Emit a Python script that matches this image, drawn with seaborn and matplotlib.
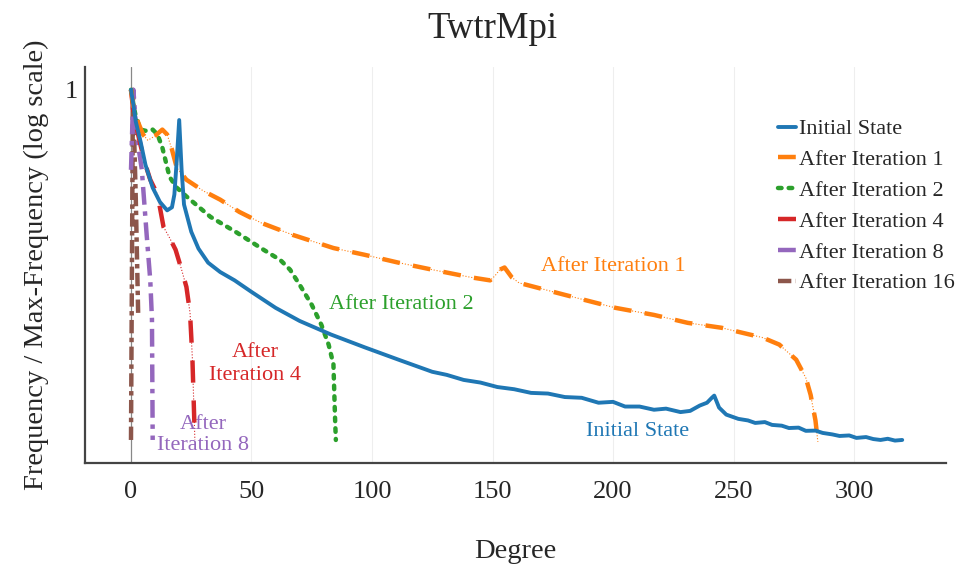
import matplotlib
matplotlib.use("Agg")
import matplotlib.pyplot as plt
import seaborn as sns
import pandas as pd

# ---------------- data ----------------
initial_x = [0, 1, 2, 4, 6, 9, 12, 15, 17, 18, 19, 20, 21, 22, 25, 28, 32, 37, 43, 50,
             60, 70, 83, 97, 111, 125, 131, 138, 145, 152, 159, 166, 173, 180, 187, 194, 200,
             205, 211, 217, 222, 228, 232, 236, 239, 241, 242, 244, 247, 252, 256, 259,
             263, 266, 270, 273, 277, 280, 284, 287, 291, 294, 298, 301, 305, 308, 311,
             314, 317, 320]
initial_y = [1.0, 0.61, 0.35, 0.18, 0.085, 0.040, 0.025, 0.019, 0.021, 0.032, 0.10, 0.37,
             0.072, 0.023, 0.0094, 0.0054, 0.0034, 0.0025, 0.0019, 0.0013,
             0.00077, 0.00050, 0.00032, 0.00021, 0.00014, 9.4e-5, 8.5e-5, 7.2e-5, 6.6e-5,
             5.7e-5, 5.3e-5, 4.7e-5, 4.6e-5, 4.1e-5, 4.0e-5, 3.4e-5, 3.5e-5,
             3.0e-5, 3.0e-5, 2.7e-5, 2.8e-5, 2.5e-5, 2.6e-5, 3.1e-5, 3.4e-5, 4.0e-5, 4.3e-5,
             2.9e-5, 2.3e-5, 2.0e-5, 1.9e-5, 1.75e-5,
             1.8e-5, 1.64e-5, 1.6e-5, 1.48e-5, 1.5e-5, 1.35e-5, 1.36e-5, 1.26e-5, 1.2e-5,
             1.14e-5, 1.16e-5, 1.07e-5, 1.1e-5, 1.03e-5, 1.0e-5,
             1.04e-5, 0.98e-5, 1.0e-5]

iter1_x = [0, 1, 3, 5, 7, 10, 13, 15, 17, 19, 23, 30, 37, 45, 54, 67, 84, 97, 111, 125,
           141, 149, 151, 153, 155, 158, 161, 180, 201, 217, 231, 245, 252, 262, 269, 276,
           280, 282, 284, 285]
iter1_y = [1.0, 0.57, 0.34, 0.23, 0.19, 0.22, 0.27, 0.23, 0.14, 0.077, 0.052, 0.036, 0.027,
           0.018, 0.0126, 0.0085, 0.0055, 0.0044, 0.0034, 0.0027,
           0.0021, 0.0019, 0.0022, 0.0027, 0.0029, 0.0021, 0.00175, 0.00118, 0.00077,
           0.00061, 0.00047, 0.00040, 0.00035, 0.00029, 0.00023, 0.00014,
           7.7e-5, 4.4e-5, 1.9e-5, 9.4e-6]

iter2_x = [0, 1, 2, 4, 6, 9, 11, 13, 16, 19, 23, 33, 44, 55, 62, 66, 70, 75, 79, 82, 84,
           84.7, 85]
iter2_y = [1.0, 0.61, 0.41, 0.27, 0.26, 0.27, 0.23, 0.15, 0.057, 0.040, 0.030, 0.0153,
           0.0091, 0.0052, 0.0037, 0.0027, 0.00164, 0.00085, 0.00044, 0.00023, 0.00012,
           1.9e-5, 1.0e-5]

iter4_x = [0, 1, 2, 4, 6, 8, 11, 13.5, 16, 18.5, 21, 23, 24.5, 25.5, 26.5]
iter4_y = [1.0, 0.49, 0.32, 0.16, 0.085, 0.052, 0.032, 0.011, 0.0077, 0.0052, 0.0027,
           0.00153, 0.00065, 0.00014, 1.0e-5]

iter8_x = [0, 1, 2, 3, 4.5, 6.5, 8, 8.7, 9]
iter8_y = [0.072, 1.0, 0.32, 0.16, 0.072, 0.0085, 0.0019, 0.00053, 1.0e-5]

iter16_x = [0, 0.8, 2, 3]
iter16_y = [1.0e-5, 1.0, 0.027, 0.00057]

series_names = ["Initial State", "After Iteration 1", "After Iteration 2",
                "After Iteration 4", "After Iteration 8", "After Iteration 16"]
x_ticks = [0, 50, 100, 150, 200, 250, 300]

# ---------------- style ----------------
sns.set_theme(style="white")
plt.rcParams["font.family"] = ["Liberation Serif", "DejaVu Serif"]
pal = sns.color_palette("tab10")

fig = plt.figure(figsize=(9.6, 5.66), dpi=100)
ax = fig.add_axes([0.0885, 0.182, 0.8965, 0.70])

ax.axvline(0, color="#888888", lw=0.9, zorder=1)
for xt in x_ticks[1:]:
    ax.axvline(xt, color="#eeeeee", lw=0.8, zorder=0)

data = [(initial_x, initial_y), (iter1_x, iter1_y), (iter2_x, iter2_y),
        (iter4_x, iter4_y), (iter8_x, iter8_y), (iter16_x, iter16_y)]
styles = [
    dict(linestyle="-", lw=2.8),
    dict(dashes=(4, 3), lw=3.2),
    dict(dashes=(0.8, 1.6), lw=3.2, dash_capstyle="round"),
    dict(dashes=(5, 4), lw=3.2),
    dict(dashes=(4, 1.5, 1, 1.5), lw=3.2),
    dict(dashes=(3, 1, 1, 1), lw=3.2),
]
thin_under = [False, True, False, True, False, False]

for i, ((xs, ys), name, st) in enumerate(zip(data, series_names, styles)):
    df = pd.DataFrame({"Degree": xs, "freq": ys})
    if thin_under[i]:
        sns.lineplot(data=df, x="Degree", y="freq", ax=ax, color=pal[i], lw=0.8,
                     linestyle=":", legend=False, zorder=2)
    sns.lineplot(data=df, x="Degree", y="freq", ax=ax, color=pal[i], label=name,
                 zorder=3 + (6 - i) * 0.1, **st)

ax.set_yscale("log")
ax.set_ylim(4.69e-6, 2.13)
ax.set_xlim(-19.1, 338)
ax.set_yticks([1])
ax.set_yticklabels(["1"])
ax.minorticks_off()
ax.set_xticks(x_ticks)
ax.tick_params(axis="x", labelsize=19, length=0, pad=13)
ax.tick_params(axis="y", labelsize=19, length=0, pad=5)

for s in ["top", "right"]:
    ax.spines[s].set_visible(False)
for s in ["left", "bottom"]:
    ax.spines[s].set_color("#444444")
    ax.spines[s].set_linewidth(1.6)

ax.set_xlabel("Degree", fontsize=20.5, labelpad=26)
ax.set_ylabel("Frequency / Max-Frequency (log scale)", fontsize=20.5, labelpad=11)
fig.text(0.513, 1 - 29 / 566, "TwtrMpi", fontsize=26.5, ha="center", va="center")

fs = 16
ax.text(200, 10 ** (-(267 - 90) / 70), "After Iteration 1", color=pal[1], fontsize=fs,
        ha="center", va="center")
ax.text(112, 10 ** (-(305 - 90) / 70), "After Iteration 2", color=pal[2], fontsize=fs,
        ha="center", va="center")
ax.text(51.5, 10 ** (-(364 - 90) / 70), "After\nIteration 4", color=pal[3], fontsize=fs,
        ha="center", va="center", linespacing=1.25)
ax.text(30, 10 ** (-(435 - 90) / 70), "After\nIteration 8", color=pal[4], fontsize=fs,
        ha="center", va="center", linespacing=1.2)
ax.text(210, 10 ** (-(432 - 90) / 70), "Initial State", color=pal[0], fontsize=fs,
        ha="center", va="center")

leg = ax.legend(loc="upper left", bbox_to_anchor=(0.810, 0.790),
                bbox_transform=fig.transFigure, frameon=False, fontsize=16,
                handlelength=0.85, handletextpad=0.12, labelspacing=0.46,
                borderpad=0, borderaxespad=0)

fig.savefig("out.png", dpi=100)
